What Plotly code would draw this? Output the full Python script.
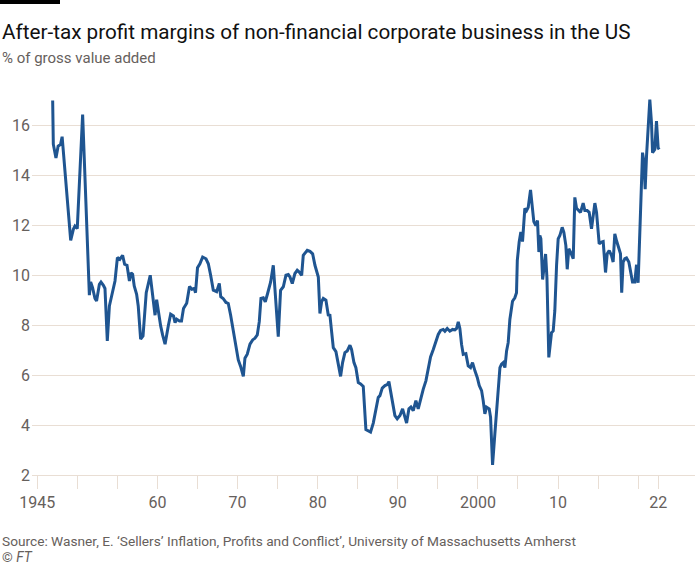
import plotly.graph_objects as go

# ---- data ----
years = [
    1946.92, 1947.0, 1947.33, 1947.6, 1947.9, 1948.1, 1949.17, 1949.5, 1949.7, 1949.99,
    1950.66, 1951.37, 1951.5, 1951.66, 1951.9, 1952.2, 1952.4, 1952.75, 1952.95, 1953.25,
    1953.45, 1953.74, 1954.0, 1954.28, 1954.7, 1955.0, 1955.3, 1955.65, 1955.9, 1956.2,
    1956.5, 1956.7, 1956.9, 1957.1, 1957.4, 1957.6, 1957.9, 1958.2, 1958.6, 1959.1,
    1959.5, 1959.7, 1959.9, 1960.15, 1960.4, 1960.65, 1960.95, 1961.35, 1961.65, 1962.0,
    1962.2, 1962.4, 1962.75, 1963.0, 1963.25, 1963.65, 1964.0, 1964.3, 1964.6, 1964.75,
    1965.0, 1965.3, 1965.64, 1966.06, 1966.35, 1966.64, 1966.97, 1967.39, 1967.72, 1967.9,
    1968.2, 1968.55, 1968.84, 1969.13, 1969.47, 1969.8, 1970.09, 1970.38, 1970.72, 1970.92,
    1971.21, 1971.55, 1971.88, 1972.17, 1972.46, 1972.71, 1972.92, 1973.21, 1973.46, 1973.75,
    1974.13, 1974.46, 1974.75, 1975.08, 1975.37, 1975.71, 1976.04, 1976.33, 1976.54, 1976.83,
    1977.16, 1977.45, 1977.7, 1978.0, 1978.2, 1978.41, 1978.7, 1979.04, 1979.37, 1979.66,
    1979.95, 1980.08, 1980.28, 1980.49, 1980.7, 1981.03, 1981.32, 1981.53, 1981.74, 1981.95,
    1982.28, 1982.57, 1982.86, 1983.11, 1983.4, 1983.69, 1984.03, 1984.23, 1984.53, 1984.77,
    1985.07, 1985.36, 1985.69, 1986.02, 1986.31, 1986.6, 1986.94, 1987.27, 1987.56, 1987.77,
    1988.06, 1988.4, 1988.68, 1988.89, 1989.14, 1989.43, 1989.64, 1989.93, 1990.27, 1990.6,
    1990.77, 1991.1, 1991.39, 1991.64, 1991.93, 1992.26, 1992.55, 1992.85, 1993.18, 1993.51,
    1993.8, 1994.09, 1994.43, 1994.76, 1995.05, 1995.34, 1995.67, 1995.88, 1996.17, 1996.5,
    1996.84, 1997.13, 1997.34, 1997.55, 1997.75, 1997.96, 1998.17, 1998.5, 1998.79, 1999.08,
    1999.33, 1999.63, 1999.92, 2000.17, 2000.46, 2000.66, 2000.87, 2001.08, 2001.41, 2001.58,
    2001.83, 2002.12, 2002.41, 2002.75, 2002.95, 2003.16, 2003.37, 2003.58, 2003.78, 2003.99,
    2004.32, 2004.61, 2004.82, 2004.92, 2005.15, 2005.36, 2005.57, 2005.86, 2006.07, 2006.28,
    2006.57, 2006.82, 2006.98, 2007.23, 2007.44, 2007.61, 2007.73, 2007.86, 2008.08, 2008.45,
    2008.62, 2008.85, 2009.19, 2009.4, 2009.6, 2009.82, 2010.02, 2010.23, 2010.52, 2010.73,
    2010.98, 2011.15, 2011.35, 2011.6, 2011.9, 2012.1, 2012.31, 2012.6, 2012.81, 2013.14,
    2013.35, 2013.64, 2013.89, 2014.18, 2014.39, 2014.6, 2014.81, 2015.14, 2015.43, 2015.64,
    2015.93, 2016.14, 2016.39, 2016.68, 2016.88, 2017.09, 2017.3, 2017.59, 2017.8, 2017.95,
    2018.13, 2018.34, 2018.55, 2018.84, 2019.05, 2019.3, 2019.59, 2019.8, 2020.0, 2020.55,
    2020.71, 2020.88, 2021.05, 2021.25, 2021.46, 2021.67, 2021.8, 2022.08, 2022.29, 2022.5,
    2022.63,
]
margins = [
    17.0, 15.25, 14.7, 15.17, 15.24, 15.55, 11.4, 11.84, 11.97, 11.87,
    16.44, 9.77, 9.2, 9.73, 9.5, 9.07, 8.97, 9.64, 9.73, 9.6,
    9.47, 7.37, 8.77, 9.17, 9.77, 10.71, 10.64, 10.8, 10.44, 10.4,
    9.77, 10.1, 10.04, 9.57, 9.24, 8.77, 7.44, 7.57, 9.3, 10.0,
    9.04, 8.4, 9.02, 8.4, 7.97, 7.6, 7.24, 7.97, 8.44, 8.37,
    8.1, 8.24, 8.17, 8.17, 8.67, 8.88, 9.55, 9.44, 9.47, 9.3,
    10.3, 10.46, 10.73, 10.66, 10.46, 10.0, 9.4, 9.34, 9.67, 9.14,
    9.07, 8.91, 8.87, 8.41, 7.74, 7.08, 6.61, 6.35, 5.95, 6.68,
    6.84, 7.24, 7.41, 7.48, 7.61, 8.14, 9.07, 9.1, 8.94, 9.27,
    9.73, 10.4, 9.07, 7.54, 9.4, 9.54, 10.0, 10.03, 9.93, 9.67,
    10.07, 10.2, 10.13, 10.0, 10.8, 10.9, 11.0, 10.96, 10.86, 10.4,
    10.07, 9.93, 8.47, 8.94, 9.07, 9.0, 8.41, 8.4, 7.74, 7.1,
    6.94, 6.5, 5.95, 6.5, 6.9, 6.97, 7.2, 7.03, 6.5, 6.3,
    5.7, 5.65, 5.55, 3.82, 3.78, 3.72, 4.08, 4.58, 5.11, 5.18,
    5.48, 5.58, 5.62, 5.74, 5.25, 4.72, 4.38, 4.25, 4.38, 4.65,
    4.45, 4.08, 4.65, 4.72, 4.58, 4.98, 4.65, 5.09, 5.44, 5.77,
    6.24, 6.73, 7.03, 7.36, 7.63, 7.79, 7.83, 7.76, 7.87, 7.76,
    7.83, 7.81, 7.87, 8.13, 7.87, 7.23, 6.83, 6.86, 6.37, 6.3,
    6.5, 6.17, 5.91, 5.58, 5.38, 4.98, 4.45, 4.72, 4.65, 4.32,
    2.4, 3.66, 4.98, 6.3, 6.44, 6.5, 6.3, 6.97, 7.3, 8.23,
    8.96, 9.1, 9.3, 10.6, 11.33, 11.73, 11.35, 12.68, 12.59, 12.72,
    13.42, 12.79, 12.15, 11.99, 12.19, 10.93, 11.59, 11.46, 9.83, 10.85,
    9.9, 6.71, 7.7, 7.77, 8.57, 10.4, 11.46, 11.59, 11.92, 11.72,
    11.19, 10.24, 11.06, 10.9, 10.66, 13.12, 12.68, 12.59, 12.52, 12.89,
    12.59, 12.59, 12.52, 11.86, 12.39, 12.89, 12.52, 11.26, 11.33, 11.35,
    10.11, 10.86, 10.99, 10.79, 10.53, 11.66, 11.39, 11.13, 10.86, 9.3,
    10.53, 10.66, 10.69, 10.53, 10.13, 9.73, 9.73, 10.42, 9.7, 14.91,
    14.58, 13.45, 14.78, 15.97, 17.04, 16.11, 14.91, 15.04, 16.17, 15.1,
    15.04,
]

x_tick_vals = [1945, 1950, 1955, 1960, 1965, 1970, 1975, 1980, 1985, 1990,
               1995, 2000, 2005, 2010, 2015, 2020, 2022.5]
x_tick_text = ["1945", "", "", "60", "", "70", "", "80", "", "90",
               "", "2000", "", "10", "", "", "22"]
y_tick_vals = [2, 4, 6, 8, 10, 12, 14, 16]

title_text = "After-tax profit margins of non-financial corporate business in the US"
subtitle_text = "% of gross value added"
source_text = "Source: Wasner, E. \u2018Sellers\u2019 Inflation, Profits and Conflict\u2019, University of Massachusetts Amherst"
credit_text = "\u00a9 <i>FT</i>"

# ---- layout geometry ----
W, H = 700, 572
L, R, T, B = 32, 5, 88, 97
PW, PH = W - L - R, H - T - B


def px(x):
    return (x - L) / PW


def py(y):
    return (H - B - y) / PH


FONT = "Roboto, Arial, sans-serif"
GRID = "#e9ded4"
TXT = "#66605c"

fig = go.Figure()
fig.add_trace(go.Scatter(
    x=years, y=margins, mode="lines",
    line=dict(color="#1f5591", width=3),
    hoverinfo="skip", showlegend=False,
))

fig.update_layout(
    width=W, height=H,
    margin=dict(l=L, r=R, t=T, b=B, autoexpand=False),
    paper_bgcolor="white", plot_bgcolor="white",
    font=dict(family=FONT, color=TXT),
    xaxis=dict(
        range=[1944.34, 2027.1],
        tickmode="array", tickvals=x_tick_vals, ticktext=x_tick_text,
        showgrid=False, zeroline=False,
        showline=True, linecolor=GRID, linewidth=1,
        ticks="outside", ticklen=13, tickcolor=GRID, tickwidth=1,
        tickfont=dict(size=16, color=TXT, family=FONT),
    ),
    yaxis=dict(
        range=[2, 17.5],
        tickmode="array", tickvals=y_tick_vals,
        showgrid=True, gridcolor=GRID, gridwidth=1,
        zeroline=False, showline=False,
        ticks="", ticklabelstandoff=1,
        tickfont=dict(size=16, color=TXT, family=FONT),
    ),
    shapes=[dict(
        type="rect", xref="paper", yref="paper",
        x0=px(0), x1=px(60), y0=py(4), y1=py(0),
        fillcolor="#000000", line=dict(width=0),
    )],
    annotations=[
        dict(text=title_text, xref="paper", yref="paper", x=px(0), y=py(32),
             xanchor="left", yanchor="middle", showarrow=False,
             font=dict(size=20.7, color="#111111", family=FONT)),
        dict(text=subtitle_text, xref="paper", yref="paper", x=px(0), y=py(58),
             xanchor="left", yanchor="middle", showarrow=False,
             font=dict(size=15, color=TXT, family=FONT)),
        dict(text=source_text, xref="paper", yref="paper", x=px(0), y=py(541),
             xanchor="left", yanchor="middle", showarrow=False,
             font=dict(size=13.7, color=TXT, family=FONT)),
        dict(text=credit_text, xref="paper", yref="paper", x=px(0), y=py(557),
             xanchor="left", yanchor="middle", showarrow=False,
             font=dict(size=13.7, color=TXT, family=FONT)),
    ],
)

fig.write_html(
    "out.html",
    config={"displayModeBar": False, "staticPlot": True},
    post_script="document.body.style.margin='0';document.body.style.padding='0';",
)
